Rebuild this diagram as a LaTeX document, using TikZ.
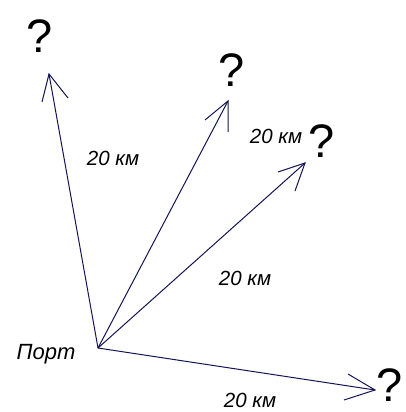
\documentclass[tikz,border=0pt]{standalone}
\usepackage{fontspec}
\setmainfont{Liberation Sans}
\begin{document}
\begin{tikzpicture}[x=1pt,y=-1pt,
  vec/.style={draw=linecol,line width=1pt},
  lbl/.style={font=\fontsize{20.5}{20.5}\selectfont\itshape,inner sep=0pt},
  qm/.style={font=\fontsize{47}{47}\selectfont,inner sep=0pt}]
\definecolor{linecol}{rgb}{0.08,0.08,0.32}
\useasboundingbox (0,0) rectangle (405,412);
\coordinate (port) at (98,348);
\coordinate (t1) at (49,74);   \coordinate (h1a) at (42,102); \coordinate (h1b) at (68,98);
\coordinate (t2) at (228,101); \coordinate (h2a) at (205,120); \coordinate (h2b) at (228,132);
\coordinate (t3) at (305,163); \coordinate (h3a) at (278,172); \coordinate (h3b) at (295,191);
\coordinate (t4) at (375,390); \coordinate (h4a) at (348,374); \coordinate (h4b) at (344,400);
\draw[vec] (port) -- (t1);
\draw[vec] (h1a) -- (t1) -- (h1b);
\draw[vec] (port) -- (t2);
\draw[vec] (h2a) -- (t2) -- (h2b);
\draw[vec] (port) -- (t3);
\draw[vec] (h3a) -- (t3) -- (h3b);
\draw[vec] (port) -- (t4);
\draw[vec] (h4a) -- (t4) -- (h4b);
\node[qm] (q1) at (40,36) {?};
\node[qm] (q2) at (232,70) {?};
\node[qm] (q3) at (322,141) {?};
\node[qm] (q4) at (390,385) {?};
\node[lbl] (l1) at (113,158) {20 км};
\node[lbl] (l2) at (276,136) {20 км};
\node[lbl] (l3) at (245,278) {20 км};
\node[lbl] (l4) at (250,400) {20 км};
\node[lbl,font=\fontsize{22}{22}\selectfont\itshape] (pl) at (46,354) {Порт};
\end{tikzpicture}
\end{document}
